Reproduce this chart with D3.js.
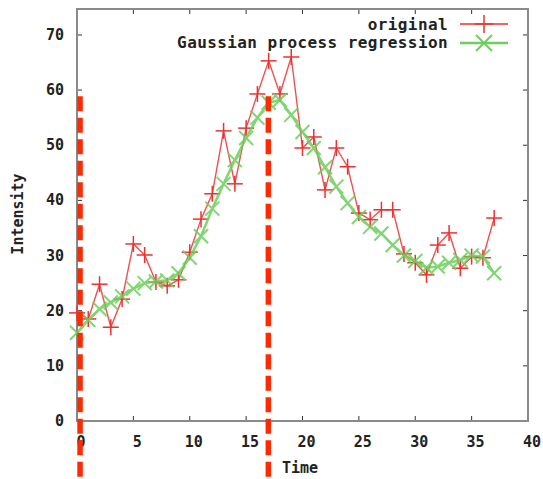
<!DOCTYPE html>
<html><head><meta charset="utf-8">
<script src="https://cdn.jsdelivr.net/npm/d3@7"></script>
<style>
html,body{margin:0;padding:0;background:#fff;}
text{font-family:"DejaVu Sans Mono",monospace;font-weight:bold;fill:#222;}
</style></head>
<body><svg id="c" width="543" height="479"></svg>
<script>
const time = d3.range(0, 38);
const original = [19.6,18.5,24.8,17.0,22.1,32.1,30.1,25.2,24.5,25.6,30.6,36.6,41.2,52.6,43.0,53.1,59.3,65.3,59.3,66.0,49.5,51.5,41.9,49.5,46.1,37.7,36.5,38.3,38.3,30.3,28.7,26.5,31.9,34.1,27.7,29.8,29.6,36.8];
const gpr = [16.0,18.3,20.3,21.5,22.6,24.0,25.0,25.3,25.5,26.8,29.6,33.5,38.5,43.0,47.3,51.3,55.0,57.7,58.2,55.5,52.4,49.5,46.0,42.5,39.5,37.0,35.2,34.0,31.9,30.0,29.0,27.8,28.0,28.7,29.2,30.0,29.8,26.8];
const xTicks = [0,5,10,15,20,25,30,35,40];
const yTicks = [0,10,20,30,40,50,60,70];
const seriesNames = ["original","Gaussian process regression"];
const markerTimes = [0.27, 16.97];
const markerTop = 58.9;

const svg = d3.select("#c");
const x = d3.scaleLinear().domain([0,40]).range([77,528]);
const y = d3.scaleLinear().domain([0,74.7]).range([421,9]);
const frameColor = "#8a8a8a";
const redC = "#ee3030", greenC = "#6ccf5c";

// ticks (inward, mirrored)
const tl = 5;
svg.append("g").selectAll("line.xb").data(xTicks.slice(1,-1)).join("line")
  .attr("x1",d=>x(d)).attr("x2",d=>x(d)).attr("y1",y(0)).attr("y2",y(0)-tl)
  .attr("stroke","#333").attr("stroke-width",1);
svg.append("g").selectAll("line.xt").data(xTicks.slice(1,-1)).join("line")
  .attr("x1",d=>x(d)).attr("x2",d=>x(d)).attr("y1",y.range()[1]).attr("y2",y.range()[1]+tl)
  .attr("stroke","#333").attr("stroke-width",1);
svg.append("g").selectAll("line.yl").data(yTicks.slice(1)).join("line")
  .attr("x1",x(0)).attr("x2",x(0)+tl).attr("y1",d=>y(d)).attr("y2",d=>y(d))
  .attr("stroke","#333").attr("stroke-width",1);
svg.append("g").selectAll("line.yr").data(yTicks.slice(1)).join("line")
  .attr("x1",x(40)).attr("x2",x(40)-tl).attr("y1",d=>y(d)).attr("y2",d=>y(d))
  .attr("stroke","#333").attr("stroke-width",1);

// frame
svg.append("rect").attr("x",x(0)).attr("y",y.range()[1]).attr("width",x(40)-x(0)).attr("height",y(0)-y.range()[1])
  .attr("fill","none").attr("stroke",frameColor).attr("stroke-width",2);

// tick labels
svg.append("g").selectAll("text").data(xTicks).join("text")
  .attr("x",d=>x(d)+4).attr("y",y(0)+26).attr("text-anchor","middle")
  .attr("font-size",15).text(d=>d);
svg.append("g").selectAll("text").data(yTicks).join("text")
  .attr("x",x(0)-13).attr("y",d=>y(d)+5).attr("text-anchor","end")
  .attr("font-size",15).text(d=>d);

// axis titles
svg.append("text").attr("x",300).attr("y",473).attr("text-anchor","middle").attr("font-size",15).text("Time");
svg.append("text").attr("transform","translate(23,214) rotate(-90)").attr("text-anchor","middle").attr("font-size",15).text("Intensity");

// series
const line = d3.line().x((d,i)=>x(time[i])).y(d=>y(d));
const plus = (g,cx,cy,s,col,w)=>{
  g.append("line").attr("x1",cx-s).attr("x2",cx+s).attr("y1",cy).attr("y2",cy).attr("stroke",col).attr("stroke-width",w);
  g.append("line").attr("x1",cx).attr("x2",cx).attr("y1",cy-s).attr("y2",cy+s).attr("stroke",col).attr("stroke-width",w);
};
const cross = (g,cx,cy,s,col,w)=>{
  g.append("line").attr("x1",cx-s).attr("x2",cx+s).attr("y1",cy-s).attr("y2",cy+s).attr("stroke",col).attr("stroke-width",w);
  g.append("line").attr("x1",cx-s).attr("x2",cx+s).attr("y1",cy+s).attr("y2",cy-s).attr("stroke",col).attr("stroke-width",w);
};
const gR = svg.append("g");
gR.append("path").datum(original).attr("d",line).attr("fill","none").attr("stroke",redC).attr("stroke-width",1.4).attr("opacity",0.85);
original.forEach((v,i)=>plus(gR,x(time[i]),y(v),8,redC,1.5));
const gG = svg.append("g").attr("opacity",0.85);
gG.append("path").datum(gpr).attr("d",line).attr("fill","none").attr("stroke",greenC).attr("stroke-width",2.5);
gpr.forEach((v,i)=>cross(gG,x(time[i]),y(v),7,greenC,2));

// legend
const lg = svg.append("g");
lg.append("text").attr("x",448).attr("y",30).attr("text-anchor","end").attr("font-size",16).attr("letter-spacing",0.4).text(seriesNames[0]);
lg.append("text").attr("x",448).attr("y",48).attr("text-anchor","end").attr("font-size",16).attr("letter-spacing",0.4).text(seriesNames[1]);
lg.append("line").attr("x1",460).attr("x2",508).attr("y1",24).attr("y2",24).attr("stroke",redC).attr("stroke-width",1.5);
plus(lg,484,24,9,redC,1.5);
lg.append("line").attr("x1",460).attr("x2",508).attr("y1",43).attr("y2",43).attr("stroke",greenC).attr("stroke-width",2.5);
cross(lg,484,43,8,greenC,2);

// red dashed annotation lines
svg.append("g").selectAll("line").data(markerTimes).join("line")
  .attr("x1",d=>x(d)).attr("x2",d=>x(d)).attr("y1",y(markerTop)).attr("y2",479)
  .attr("stroke","#ff2a00").attr("stroke-width",5.5).attr("stroke-dasharray","15,6.5");
</script></body></html>
